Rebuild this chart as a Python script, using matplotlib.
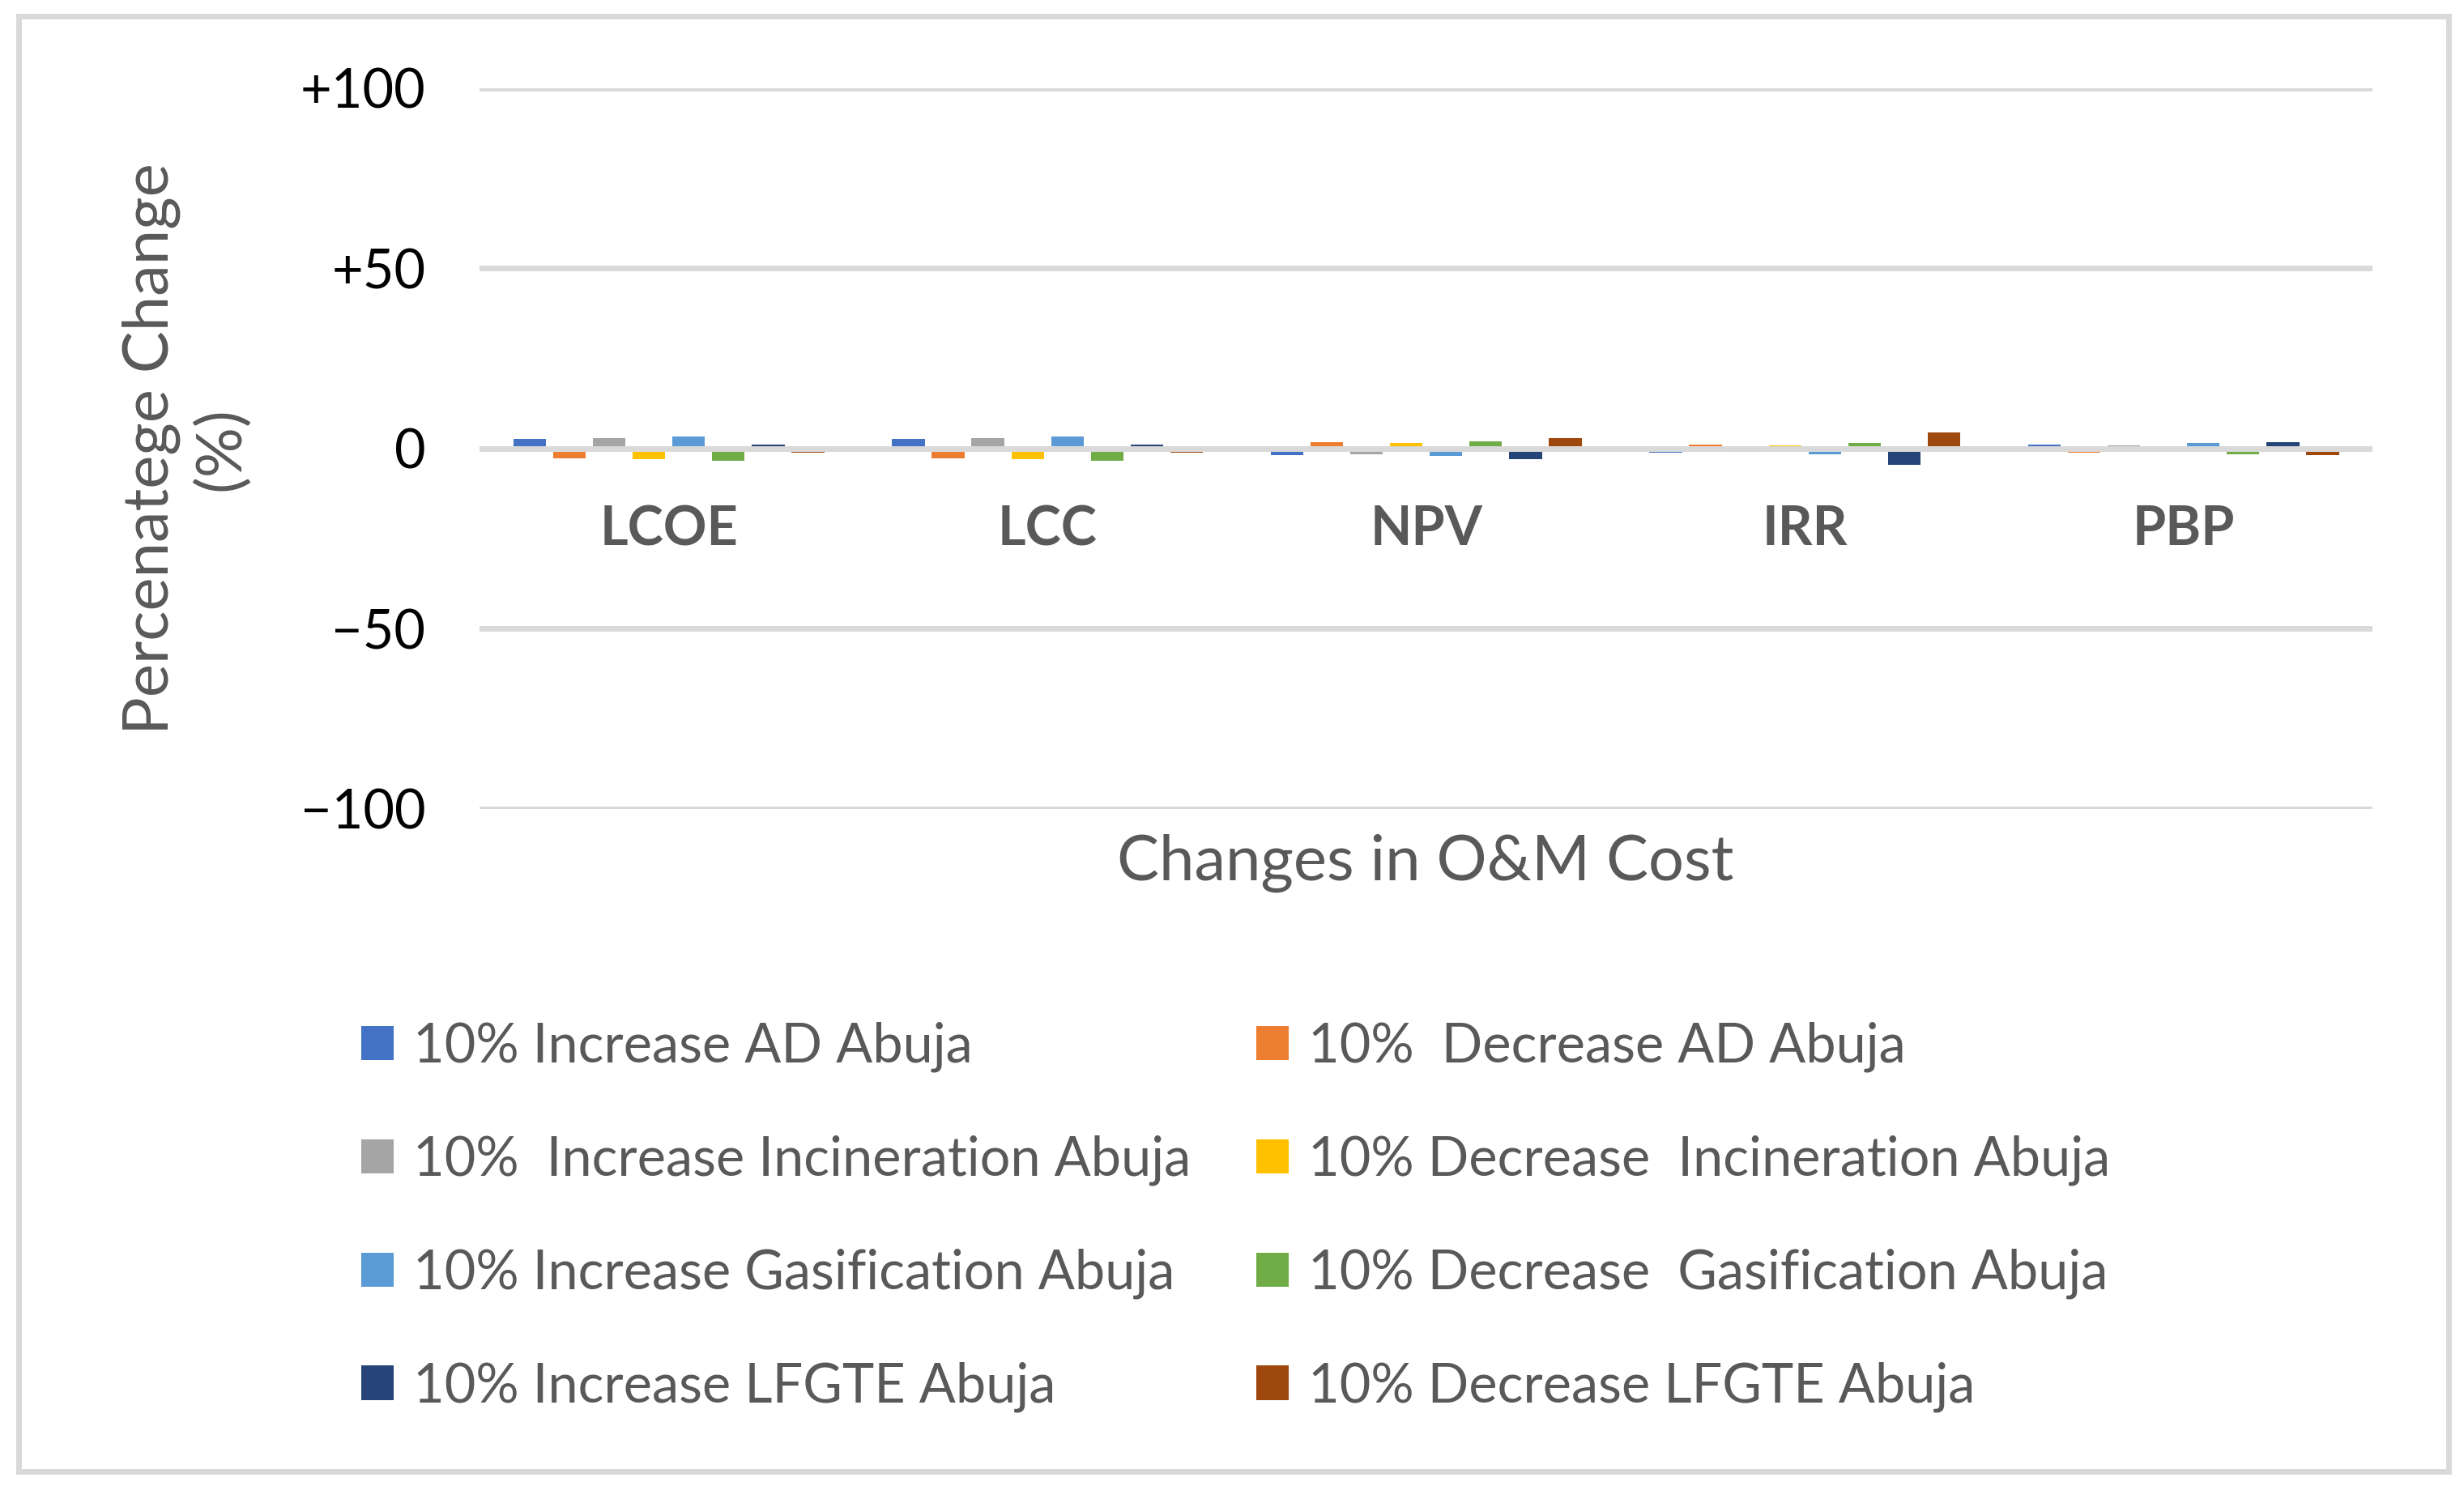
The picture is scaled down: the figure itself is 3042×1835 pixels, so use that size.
import matplotlib.pyplot as plt
import numpy as np
from matplotlib.patches import Rectangle, Patch

plt.rcParams['font.family'] = ['Lato', 'DejaVu Sans']

categories = ['LCOE', 'LCC', 'NPV', 'IRR', 'PBP']

series_names = ['10% Increase AD Abuja', '10%  Decrease AD Abuja',
                '10%  Increase Incineration Abuja', '10% Decrease  Incineration Abuja',
                '10% Increase Gasification Abuja', '10% Decrease  Gasification Abuja',
                '10% Increase LFGTE Abuja', '10% Decrease LFGTE Abuja']

ad_inc = [2.8, 2.8, -1.9, -1.2, 1.2]
ad_dec = [-2.8, -2.8, 1.9, 1.2, -1.2]
inc_inc = [3.0, 3.0, -1.5, -1.0, 1.0]
inc_dec = [-3.0, -3.0, 1.5, 1.0, -1.0]
gas_inc = [3.3, 3.3, -2.1, -1.5, 1.5]
gas_dec = [-3.3, -3.3, 2.1, 1.5, -1.5]
lfg_inc = [1.2, 1.2, -3.0, -4.6, 1.9]
lfg_dec = [-1.2, -1.2, 3.0, 4.6, -1.7]

series_values = [ad_inc, ad_dec, inc_inc, inc_dec, gas_inc, gas_dec, lfg_inc, lfg_dec]
colors = ['#4472C4', '#ED7D31', '#A5A5A5', '#FFC000',
          '#5B9BD5', '#70AD47', '#264478', '#9E480E']

yticks = [-100, -50, 0, 50, 100]
ytick_labels = ['\u2212100', '\u221250', '0', '+50', '+100']

text_col = '#595959'
grid_col = '#D9D9D9'

fig = plt.figure(figsize=(15.21, 9.175), dpi=200)
ax = fig.add_axes([0.1946, 0.4556, 0.7684, 0.485])

x = np.arange(len(categories))
step = 0.105
width = 0.086
for k, (vals, col) in enumerate(zip(series_values, colors)):
    off = (k - 3.5) * step
    ax.bar(x + off, vals, width, color=col, zorder=2, label=series_names[k])

for yv in yticks:
    ax.axhline(yv, color=grid_col, lw=2.5, zorder=3)

ax.set_xlim(-0.5, len(categories) - 0.5)
ax.set_ylim(-100, 100)
ax.set_yticks(yticks)
ax.set_yticklabels(ytick_labels, fontsize=24, color='black')
ax.tick_params(axis='y', length=0, pad=24)
ax.set_xticks([])
for s in ax.spines.values():
    s.set_visible(False)

for i, c in enumerate(categories):
    ax.text(i, -22.5, c, ha='center', va='center', fontsize=24,
            fontweight='bold', color=text_col)

ax.set_ylabel('Percenatege Change\n(%)', fontsize=28, color=text_col,
              linespacing=1.25, labelpad=22)
fig.text(0.5785, 0.419, 'Changes in O&M Cost', ha='center', va='center',
         fontsize=28, color=text_col)

# legend: increases in first column, decreases in second
order = [0, 2, 4, 6, 1, 3, 5, 7]
handles = [Patch(facecolor=colors[k]) for k in order]
labels = [series_names[k] for k in order]
leg = fig.legend(handles, labels, ncol=2, loc='upper left',
                 bbox_to_anchor=(0.138, 0.327), frameon=False, fontsize=24,
                 handlelength=0.6, handleheight=0.6, handletextpad=0.36,
                 labelspacing=1.16, columnspacing=1.2, borderaxespad=0)
for t in leg.get_texts():
    t.set_color(text_col)

fig.patches.append(Rectangle((23 / 3042, 1 - 1817 / 1835), 3000 / 3042, 1797 / 1835,
                             transform=fig.transFigure, fill=False,
                             edgecolor=grid_col, lw=2.5))

fig.savefig('out.png', dpi=200)
